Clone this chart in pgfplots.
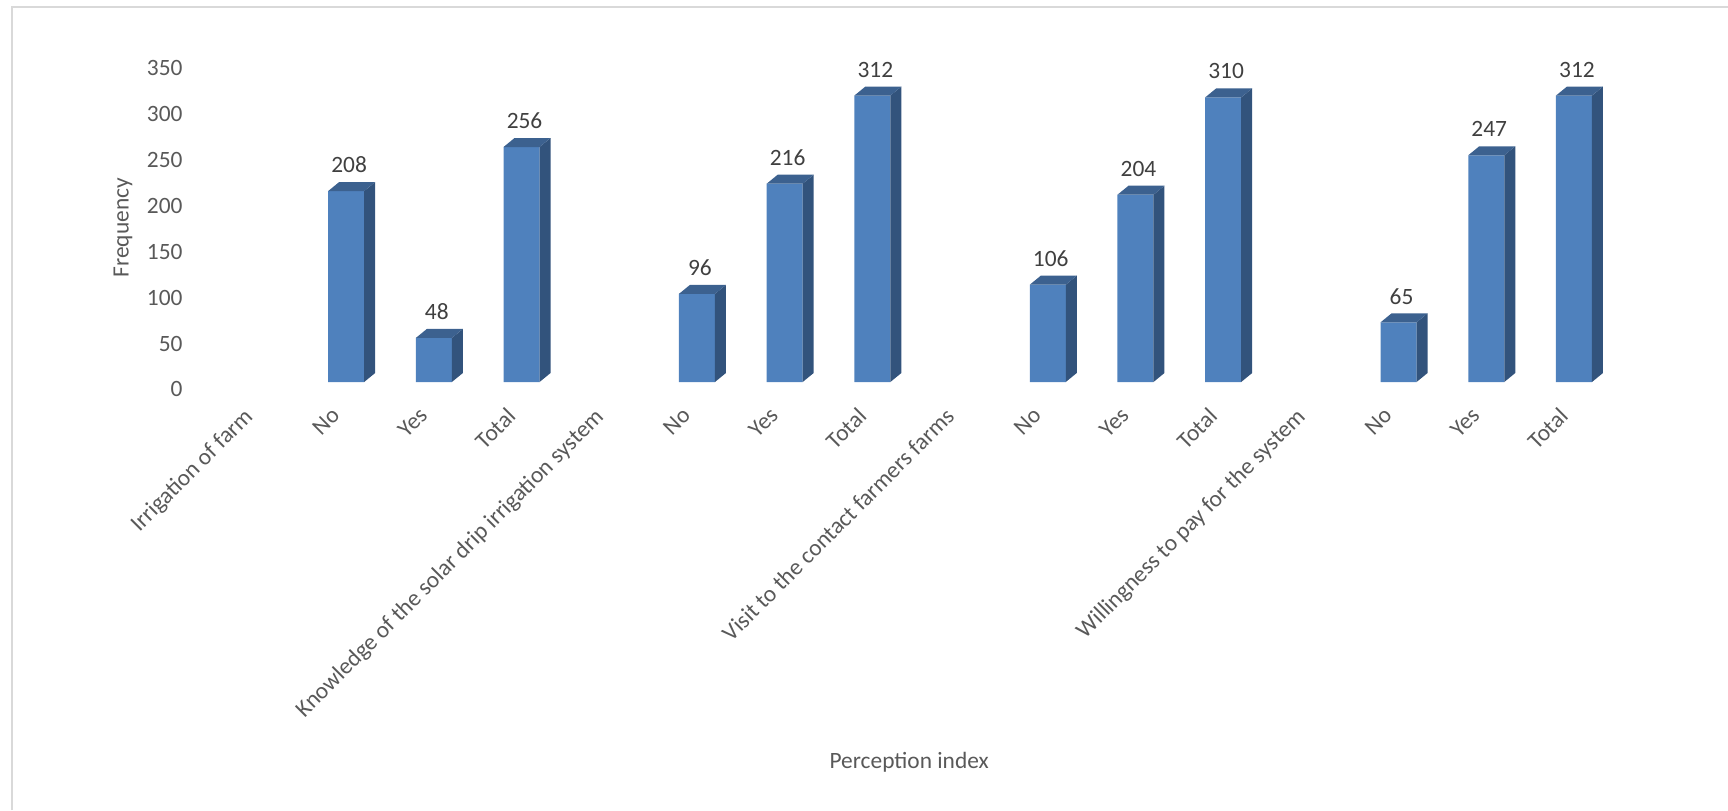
\documentclass[border=0pt]{standalone}
\usepackage{fontspec}
\setmainfont{Carlito}
\usepackage{pgfplots}
\pgfplotsset{compat=1.18}

\definecolor{frontc}{RGB}{79,129,189}
\definecolor{sidec}{RGB}{50,83,124}
\definecolor{topc}{RGB}{60,97,143}
\definecolor{axtext}{RGB}{89,89,89}
\definecolor{lbltext}{RGB}{64,64,64}
\definecolor{framec}{RGB}{217,217,217}

% side and top faces of a 3D bar, drawn at the top centre of the front face
\pgfdeclareplotmark{barfaces}{%
  \pgfmathsetlengthmacro\h{\barh*0.459pt}%
  \pgfpathmoveto{\pgfqpoint{9pt}{0pt}}%
  \pgfpathlineto{\pgfqpoint{14.5pt}{4.5pt}}%
  \pgfpathlineto{\pgfpoint{14.5pt}{4.5pt-\h}}%
  \pgfpathlineto{\pgfpoint{9pt}{-\h}}%
  \pgfpathclose
  \pgfsetfillcolor{sidec}\pgfusepath{fill}%
  \pgfpathmoveto{\pgfqpoint{-9pt}{0pt}}%
  \pgfpathlineto{\pgfqpoint{-3.5pt}{4.5pt}}%
  \pgfpathlineto{\pgfqpoint{14.5pt}{4.5pt}}%
  \pgfpathlineto{\pgfqpoint{9pt}{0pt}}%
  \pgfpathclose
  \pgfsetfillcolor{topc}\pgfusepath{fill}%
}

\pgfplotstableread{
x  y
1  208
2  48
3  256
5  96
6  216
7  312
9  106
10 204
11 310
13 65
14 247
15 312
}\freq

\newcommand\lblfont{\fontsize{11.7}{13}\selectfont}

\begin{document}
\begin{tikzpicture}
\useasboundingbox (-107.3pt,-214pt) rectangle (756.7pt,191pt);
\draw[framec, line width=1pt] (-101.3pt,-214pt) -- (-101.3pt,187.5pt) -- (760pt,187.5pt);
\begin{axis}[
  at={(0,0)}, anchor=south west,
  x=43.85pt, y=0.459pt,
  xmin=-0.5, xmax=15.5,
  ymin=0, ymax=350,
  clip=false,
  axis line style={draw=none},
  tick style={draw=none},
  /pgf/number format/assume math mode=true,
  ytick={0,50,...,350},
  xtick={0,...,15},
  xticklabels={Irrigation of farm, No, Yes, Total,
    Knowledge of the solar drip irrigation system, No, Yes, Total,
    Visit to the contact farmers farms, No, Yes, Total,
    Willingness to pay for the system, No, Yes, Total},
  yticklabel style={font=\lblfont, text=axtext, anchor=east, xshift=-12.5pt, yshift=-3.7pt},
  xticklabel style={font=\lblfont, text=axtext, xshift=-8pt, yshift=-12pt, rotate=45, anchor=north east, inner sep=0pt},
  ylabel={Frequency},
  xlabel={Perception index},
  every axis y label/.style={at={(rel axis cs:0,0.48)}, xshift=-45.8pt, rotate=90, anchor=center, font=\lblfont, text=axtext},
  every axis x label/.style={at={(rel axis cs:0.495,0)}, yshift=-190pt, anchor=center, font=\lblfont, text=axtext},
]
\addplot[ybar, bar width=18pt, bar shift=0pt, fill=frontc, draw=none] table[x=x, y=y] {\freq};
\addplot[only marks, mark=barfaces,
  visualization depends on={rawy \as \barh},
  nodes near coords,
  every node near coord/.append style={font=\lblfont, text=lbltext, anchor=center, xshift=1.5pt, yshift=13pt},
] table[x=x, y=y] {\freq};
\end{axis}
\end{tikzpicture}
\end{document}
